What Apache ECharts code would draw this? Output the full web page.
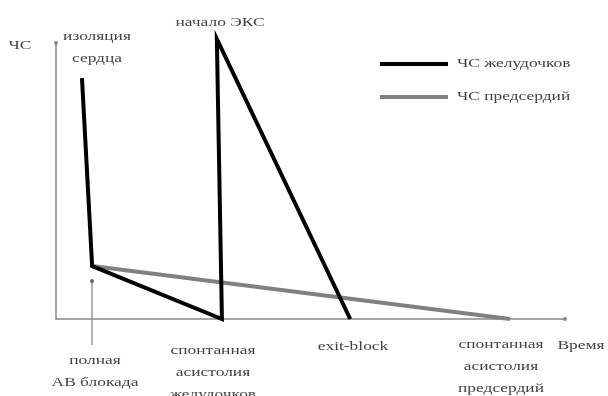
<!DOCTYPE html>
<html>
<head>
<meta charset="utf-8">
<script src="https://cdn.jsdelivr.net/npm/echarts@6/dist/echarts.min.js"></script>
<style>
  html, body { margin: 0; padding: 0; background: #fff; }
  #chart { width: 608px; height: 396px; }
</style>
</head>
<body>
<div id="chart"></div>
<script>
// time (arbitrary units) and rate (arbitrary units)
var ventTime = [5.1, 7.1, 32.6, 31.6, 57.8];
var ventRate = [87.3, 19.2, 0, 101.5, 0];
var atrTime = [7.1, 89.2];
var atrRate = [19.2, 0];
var seriesNames = ['ЧС желудочков', 'ЧС предсердий'];
var seriesColors = ['#000', '#808080'];

var dom = document.getElementById('chart');
var chart = echarts.init(dom, null, { renderer: 'canvas' });

var font = 'Liberation Serif';
var txtColor = '#444';

function toPairs(xs, ys) {
    return xs.map(function (x, i) { return [x, ys[i]]; });
}

// the sketch's lettering is stretched sideways, so widen the text
function note(x, y, text, align) {
    return {
        type: 'text',
        x: x,
        y: y,
        scaleX: 1.45,
        style: {
            text: text,
            fontFamily: font,
            fontSize: 12,
            fill: txtColor,
            align: align || 'center',
            verticalAlign: 'middle',
            lineHeight: 22
        }
    };
}

function legendItem(i, y) {
    return [
        {
            type: 'line',
            shape: { x1: 380, y1: y, x2: 448, y2: y },
            style: { stroke: seriesColors[i], lineWidth: 4 }
        },
        note(457, y, seriesNames[i], 'left')
    ];
}

var option = {
    animation: false,
    backgroundColor: '#fff',
    grid: { left: 56, right: 43, top: 43, bottom: 77 },
    xAxis: {
        type: 'value',
        min: 0,
        max: 100,
        axisLine: {
            lineStyle: { color: '#888', width: 1.5 },
            symbol: ['none', 'circle'],
            symbolSize: [4, 4]
        },
        axisTick: { show: false },
        axisLabel: { show: false },
        splitLine: { show: false }
    },
    yAxis: {
        type: 'value',
        min: 0,
        max: 100,
        axisLine: {
            show: true,
            lineStyle: { color: '#888', width: 1.5 },
            symbol: ['none', 'circle'],
            symbolSize: [4, 4]
        },
        axisTick: { show: false },
        axisLabel: { show: false },
        splitLine: { show: false }
    },
    series: [
        {
            name: seriesNames[0],
            type: 'line',
            data: toPairs(ventTime, ventRate),
            clip: false,
            symbol: 'none',
            color: seriesColors[0],
            lineStyle: { color: seriesColors[0], width: 4, join: 'miter' },
            z: 3
        },
        {
            name: seriesNames[1],
            type: 'line',
            data: toPairs(atrTime, atrRate),
            clip: false,
            symbol: 'none',
            color: seriesColors[1],
            lineStyle: { color: seriesColors[1], width: 4 },
            z: 2
        }
    ],
    graphic: [
        note(20, 46, 'ЧС'),
        note(97, 48, 'изоляция\nсердца'),
        note(220, 23, 'начало ЭКС'),
        note(95, 372, 'полная\nАВ блокада'),
        note(213, 373, 'спонтанная\nасистолия\nжелудочков'),
        note(353, 347, 'exit-block'),
        note(501, 367, 'спонтанная\nасистолия\nпредсердий'),
        note(581, 346, 'Время'),
        {
            type: 'line',
            shape: { x1: 92, y1: 281, x2: 92, y2: 345 },
            style: { stroke: '#666', lineWidth: 1 }
        },
        {
            type: 'circle',
            shape: { cx: 92, cy: 281, r: 2 },
            style: { fill: '#666' }
        }
    ].concat(legendItem(0, 64), legendItem(1, 97))
};

chart.setOption(option);
window.addEventListener('resize', chart.resize);
</script>
</body>
</html>
